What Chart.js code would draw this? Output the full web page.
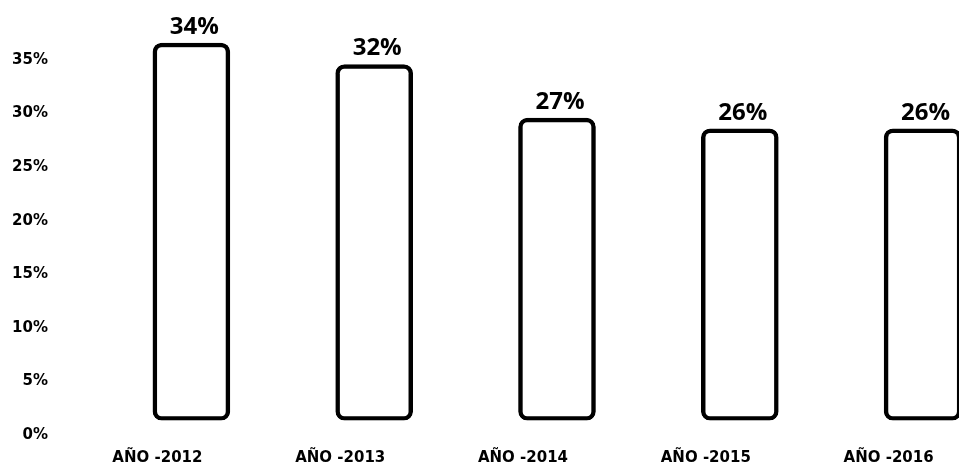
<!DOCTYPE html>
<html>
<head>
<meta charset="utf-8">
<script src="https://cdn.jsdelivr.net/npm/chart.js@4/dist/chart.umd.min.js"></script>
<style>
    html, body { margin: 0; padding: 0; background: #fff; overflow: hidden; }
    /* the plot runs past the right edge of the window, like the cropped original */
    #wrap { width: 1014px; height: 467px; }
</style>
</head>
<body>
<div id="wrap"><canvas id="chart1"></canvas></div>
<script>
//----------------- chart data -------------------------
const years = ["AÑO -2012", "AÑO -2013", "AÑO -2014", "AÑO -2015", "AÑO -2016"];
const shares = [34, 32, 27, 26, 26];
const yTicks = [0, 5, 10, 15, 20, 25, 30, 35];

//----------------- percentage labels over the bars -------------------------
const barLabels = {
    id: "barLabels",
    afterDatasetsDraw(chart) {
        const ctx = chart.ctx;
        const meta = chart.getDatasetMeta(0);
        ctx.save();
        ctx.font = "bold 24px 'Open Sans'";
        ctx.fillStyle = "#000";
        ctx.textAlign = "center";
        ctx.textBaseline = "alphabetic";
        meta.data.forEach((bar, i) => {
            ctx.fillText(`${shares[i]}%`, bar.x + 3, bar.y - 9);
        });
        ctx.restore();
    }
};

// the tick padding is only a horizontal gap here, so drop the extra room it asks for
function noEdgePadding(scale) {
    scale.paddingTop = 0;
    scale.paddingBottom = 0;
    scale.paddingLeft = 0;
    scale.paddingRight = 0;
}

// --------Create chart----------
const config = {
    type: "bar",
    data: {
        labels: years,
        datasets: [{
            data: shares,
            base: -1.2,
            backgroundColor: "#fff",
            borderColor: "#000",
            borderWidth: 4.5,
            borderRadius: 9,
            borderSkipped: false,
            barThickness: 77
        }]
    },
    options: {
        responsive: true,
        maintainAspectRatio: false,
        animation: false,
        layout: { padding: { top: 21.6, right: 0, bottom: 0, left: 0 } },
        plugins: {
            legend: { display: false },
            tooltip: { enabled: false }
        },
        scales: {
            x: {
                grid: { display: false, drawTicks: false },
                border: { display: false },
                ticks: {
                    color: "#000",
                    font: { family: "DejaVu Sans", weight: "bold", size: 15 },
                    padding: 29,
                    labelOffset: -34,
                    maxRotation: 0
                },
                afterFit: (scale) => {
                    scale.height = 46.6;
                    noEdgePadding(scale);
                }
            },
            y: {
                min: -1.2,
                max: 36,
                grid: { display: false, drawTicks: false },
                border: { display: false },
                afterBuildTicks: (scale) => {
                    scale.ticks = yTicks.map(v => ({ value: v }));
                },
                ticks: {
                    color: "#000",
                    font: { family: "DejaVu Sans", weight: "bold", size: 15 },
                    padding: 52,
                    labelOffset: 27.5,
                    callback: (v) => `${v}%`
                },
                afterFit: (scale) => {
                    scale.width = 100;
                    noEdgePadding(scale);
                }
            }
        }
    },
    plugins: [barLabels]
};

const myChart = new Chart(
    document.getElementById("chart1").getContext("2d"),
    config
);
</script>
</body>
</html>
